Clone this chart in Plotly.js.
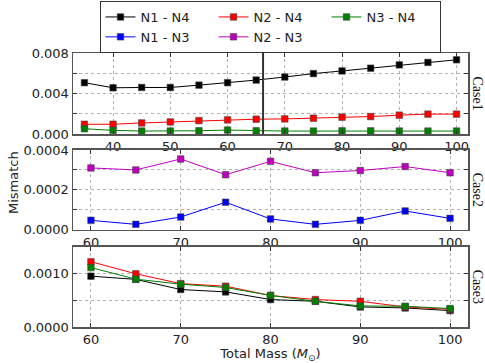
<!DOCTYPE html>
<html>
<head>
<meta charset="utf-8">
<script src="https://cdn.plot.ly/plotly-3.0.1.min.js"></script>
<style>
  html, body { margin: 0; padding: 0; background: #fff; }
  #chart { width: 485px; height: 363px; }
</style>
</head>
<body>
<div id="chart"></div>
<script>
// Case1 masses and mismatches
const massCase1 = [35, 40, 45, 50, 55, 60, 65, 70, 75, 80, 85, 90, 95, 100];
const case1N1N4 = [0.00507, 0.00457, 0.0046, 0.0046, 0.00483, 0.00507, 0.00533, 0.00563, 0.00597, 0.00623, 0.0065, 0.00683, 0.00707, 0.00733];
const case1N2N4 = [0.00097, 0.00097, 0.0011, 0.0012, 0.00133, 0.0014, 0.00147, 0.0015, 0.00157, 0.00167, 0.00173, 0.00187, 0.00197, 0.00197];
const case1N3N4 = [0.00053, 0.00037, 0.0003, 0.0003, 0.00033, 0.0004, 0.00033, 0.0003, 0.0003, 0.00032, 0.00032, 0.0003, 0.0003, 0.0003];
const case1Marker = 66.2;

// Case2
const massCase23 = [60, 65, 70, 75, 80, 85, 90, 95, 100];
const case2N1N3 = [0.000047, 0.000027, 0.000064, 0.000138, 0.000054, 0.000027, 0.000047, 0.000094, 0.000057];
const case2N2N3 = [0.00031, 0.0003, 0.000355, 0.000276, 0.000343, 0.000286, 0.000297, 0.000317, 0.000286];

// Case3
const case3N1N4 = [0.00095, 0.00089, 0.0007, 0.000656, 0.000513, 0.00048, 0.000375, 0.000356, 0.000306];
const case3N2N4 = [0.00122, 0.000994, 0.00081, 0.000763, 0.000588, 0.000513, 0.00048, 0.000375, 0.00033];
const case3N3N4 = [0.00111, 0.000894, 0.0008, 0.000738, 0.00059, 0.00048, 0.000394, 0.000388, 0.000344];

const COLORS = { k: "#000000", r: "#ff0000", g: "#008000", b: "#0000ff", m: "#bf00bf" };
const FONT = "DejaVu Sans, sans-serif";

function series(x, y, name, color, axis, showlegend) {
  return {
    x: x, y: y, name: name,
    type: "scatter", mode: "lines+markers",
    xaxis: "x" + axis, yaxis: "y" + axis,
    line: { color: color, width: 1 },
    marker: { symbol: "square", size: 6.5, color: color, line: { color: "#444", width: 0.6 } },
    showlegend: showlegend,
  };
}

function axisStyle() {
  return {
    showline: true, mirror: "ticks", linecolor: "#555", linewidth: 1.5,
    ticks: "inside", ticklen: 4, tickcolor: "#333",
    showgrid: true, gridcolor: "#b0b0b0", griddash: "dot", gridwidth: 1,
    zeroline: false,
    tickfont: { family: FONT, size: 13, color: "#222" },
  };
}

function xAxis(range, tickvals, anchor) {
  return Object.assign(axisStyle(), { domain: [0, 1], range: range, anchor: anchor, tickvals: tickvals });
}

function yAxis(domain, range, tickvals, ticktext, minorvals, anchor) {
  return Object.assign(axisStyle(), {
    domain: domain, range: range, anchor: anchor,
    tickvals: tickvals, ticktext: ticktext,
    minor: { tickvals: minorvals, ticks: "inside", ticklen: 4, tickcolor: "#333", showgrid: true, gridcolor: "#b0b0b0", griddash: "dot", gridwidth: 1 },
  });
}

const traces = [
  series(massCase1, case1N1N4, "N1 - N4", COLORS.k, "", true),
  series(massCase1, case1N2N4, "N2 - N4", COLORS.r, "", true),
  series(massCase1, case1N3N4, "N3 - N4", COLORS.g, "", true),
  series(massCase23, case2N1N3, "N1 - N3", COLORS.b, "2", true),
  series(massCase23, case2N2N3, "N2 - N3", COLORS.m, "2", true),
  series(massCase23, case3N1N4, "N1 - N4", COLORS.k, "3", false),
  series(massCase23, case3N2N4, "N2 - N4", COLORS.r, "3", false),
  series(massCase23, case3N3N4, "N3 - N4", COLORS.g, "3", false),
];

const caseFont = { family: "Liberation Serif, serif", size: 14, color: "#111" };

const xaxis3 = xAxis([58, 102], [60, 70, 80, 90, 100], "y3");
xaxis3.title = { text: "Total Mass (<i>M</i><sub>⊙</sub>)", font: { family: FONT, size: 13, color: "#222" }, standoff: 2 };

const layout = {
  width: 485, height: 363,
  margin: { l: 73, r: 17, t: 53, b: 36 },
  paper_bgcolor: "#ffffff",
  plot_bgcolor: "#ffffff",
  xaxis: xAxis([33, 102], [40, 50, 60, 70, 80, 90, 100], "y"),
  yaxis: yAxis([0.704, 1], [0, 0.008], [0, 0.004, 0.008], ["0.000", "0.004", "0.008"], [0.002, 0.006], "x"),
  xaxis2: xAxis([58, 102], [60, 70, 80, 90, 100], "y2"),
  yaxis2: yAxis([0.355, 0.646], [0, 0.0004], [0, 0.0002, 0.0004], ["0.0000", "0.0002", "0.0004"], [0.0001, 0.0003], "x2"),
  xaxis3: xaxis3,
  yaxis3: yAxis([0, 0.293], [0, 0.0015], [0, 0.001], ["0.0000", "0.0010"], [0.0005], "x3"),
  shapes: [{
    type: "line", xref: "x", yref: "y domain",
    x0: case1Marker, x1: case1Marker, y0: 0, y1: 1,
    line: { color: "#333", width: 2 },
  }],
  annotations: [
    { text: "Case1", xref: "paper", yref: "y domain", x: 1.023, y: 0.5, showarrow: false, textangle: 90, font: caseFont, xanchor: "center", yanchor: "middle" },
    { text: "Case2", xref: "paper", yref: "y2 domain", x: 1.023, y: 0.5, showarrow: false, textangle: 90, font: caseFont, xanchor: "center", yanchor: "middle" },
    { text: "Case3", xref: "paper", yref: "y3 domain", x: 1.023, y: 0.5, showarrow: false, textangle: 90, font: caseFont, xanchor: "center", yanchor: "middle" },
    { text: "Mismatch", xref: "paper", yref: "paper", x: -0.152, y: 0.529, showarrow: false, textangle: -90, font: { family: FONT, size: 13, color: "#222" }, xanchor: "center", yanchor: "middle" },
  ],
  legend: {
    orientation: "h",
    xref: "container", yref: "container",
    x: 270 / 485, y: 1 - 1 / 363, xanchor: "center", yanchor: "top",
    bordercolor: "#333", borderwidth: 1,
    entrywidth: 68, entrywidthmode: "pixels",
    font: { family: FONT, size: 13, color: "#222" },
    tracegroupgap: 0,
  },
};

Plotly.newPlot("chart", traces, layout, { displayModeBar: false, staticPlot: true });
</script>
</body>
</html>
